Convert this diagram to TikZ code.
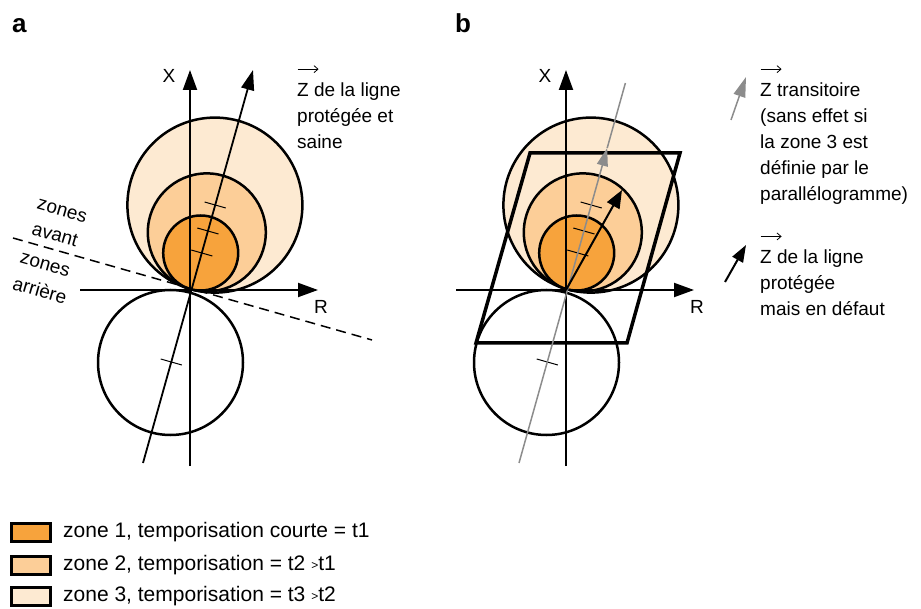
\documentclass[tikz,border=0pt]{standalone}
\usepackage{fontspec}
\setmainfont{Liberation Sans}
\usetikzlibrary{arrows.meta,positioning}
\definecolor{zoneone}{HTML}{F7A33C}
\definecolor{zonetwo}{HTML}{FCCE98}
\definecolor{zonethree}{HTML}{FDEAD2}
\definecolor{transit}{HTML}{8C8C8C}
\newcommand{\zvec}{\makebox[0pt][l]{\raisebox{1.45em}{\tikz[x=1pt,y=1pt,baseline=0pt]\draw[black,line width=0.8pt,-{Straight Barb[length=4pt,width=7pt]}] (0,0) -- (21,0);}}Z}
\newcommand{\smallgt}{\raisebox{1.5pt}{\fontsize{12}{12}\selectfont >}}

\begin{document}
\begin{tikzpicture}[
  x=1pt,y=-1pt,
  font=\fontsize{19}{26}\selectfont,
  zone/.style={draw,line width=2.5pt},
  axis/.style={line width=2pt,-{Triangle[length=20pt,width=14pt]}},
  zline/.style={line width=1.8pt,-{Triangle[length=20pt,width=13pt]}},
  tickmark/.style={line width=1pt},
  lbl/.style={inner sep=0pt,align=left,anchor=base west},
  legbox/.style={draw,line width=3pt,minimum width=39pt,minimum height=18pt,inner sep=0pt},
  legtext/.style={inner sep=0pt,font=\fontsize{21}{26}\selectfont},
  panel/.style={inner sep=0pt,anchor=base west,font=\fontsize{26}{30}\selectfont\bfseries}
]
\useasboundingbox (0,0) rectangle (921,609);

\node[panel] (pa) at (12,32.7) {a};
\node[panel] (pb) at (455,32.7) {b};

% zones, axes and ticks, same in both panels
\foreach \dx/\p in {0/a,376/b}{
  \begin{scope}[xshift=\dx pt]
    \draw[zone,fill=zonethree] (214.9,205.1) circle[radius=87.5pt];
    \draw[zone,fill=zonetwo] (206.8,232.4) circle[radius=59pt];
    \draw[zone,fill=zoneone] (200.7,253.0) circle[radius=37.5pt];
    \draw[zone] (170.5,362.5) circle[radius=72.5pt];
    \coordinate (O\p) at (190,290);
    \coordinate (Xtop\p) at (190,70);
    \coordinate (Xbot\p) at (190,466);
    \coordinate (Rleft\p) at (80,290);
    \coordinate (Rright\p) at (318,290);
    \draw[axis] (Xbot\p) -- (Xtop\p);
    \draw[axis] (Rleft\p) -- (Rright\p);
    \node (X\p) at (169,75.5) {X};
    \node (R\p) at (321,307) {R};
    \foreach \c in {(215.2,205),(207.9,231),(201.8,253),(171.3,362)}
      \draw[tickmark] \c ++(-10.6,-3) -- ++(21.2,6);
  \end{scope}
}

% panel a
\coordinate (Zlow) at (143,463);
\coordinate (Ztop) at (253,70);
\draw[zline] (Zlow) -- (Ztop);
\coordinate (Dleft) at (13,238);
\coordinate (Dright) at (372,340);
\draw[line width=1.5pt,dash pattern=on 10pt off 6pt] (Dleft) -- (Dright);
\node[rotate=-16] (av1) at (62,211) {zones};
\node[rotate=-16] (av2) at (55,235) {avant};
\node[rotate=-16] (ar1) at (45,265) {zones};
\node[rotate=-16] (ar2) at (40,290) {arrière};
\node[lbl] (za) at (297,148.7) {\zvec{} de la ligne\\protégée et\\saine};

% panel b
\coordinate (P1) at (530,153);
\coordinate (P2) at (680,153);
\coordinate (P3) at (627,343);
\coordinate (P4) at (476,343);
\draw[line width=3.5pt,line join=miter] (P1) -- (P2) -- (P3) -- (P4) -- cycle;
\coordinate (Gbot) at (519,463);
\coordinate (Gmid) at (607.2,148);
\coordinate (Gtop) at (625.4,83);
\draw[transit,line width=1.5pt,-{Triangle[length=18pt,width=11pt]}] (Gbot) -- (Gmid);
\draw[transit,line width=1.5pt] (Gmid) -- (Gtop);
\coordinate (Fault) at (622,190);
\draw[line width=2pt,-{Triangle[length=18pt,width=14pt]}] (Ob) -- (Fault);

\coordinate (gi1) at (731,120);
\coordinate (gi2) at (746,77);
\draw[transit,line width=1.5pt,-{Triangle[length=20pt,width=12pt]}] (gi1) -- (gi2);
\coordinate (bi1) at (725,282);
\coordinate (bi2) at (746,245);
\draw[line width=2pt,-{Triangle[length=17pt,width=12pt]}] (bi1) -- (bi2);
\node[lbl] (zt) at (760,200.7) {\zvec{} transitoire\\(sans effet si\\la zone 3 est\\définie par le\\parallélogramme)};
\node[lbl] (zd) at (760,316) {\zvec{} de la ligne\\protégée\\mais en défaut};

% legend
\node[legbox,fill=zoneone] (l1) at (31,532.5) {};
\node[legbox,fill=zonetwo,below=12pt of l1] (l2) {};
\node[legbox,fill=zonethree,below=10pt of l2] (l3) {};
\node[legtext,right=11pt of l1] (t1) {zone 1, temporisation courte = t1};
\node[legtext,right=11pt of l2] (t2) {zone 2, temporisation = t2 \smallgt t1};
\node[legtext,right=11pt of l3] (t3) {zone 3, temporisation = t3 \smallgt t2};
\end{tikzpicture}
\end{document}
